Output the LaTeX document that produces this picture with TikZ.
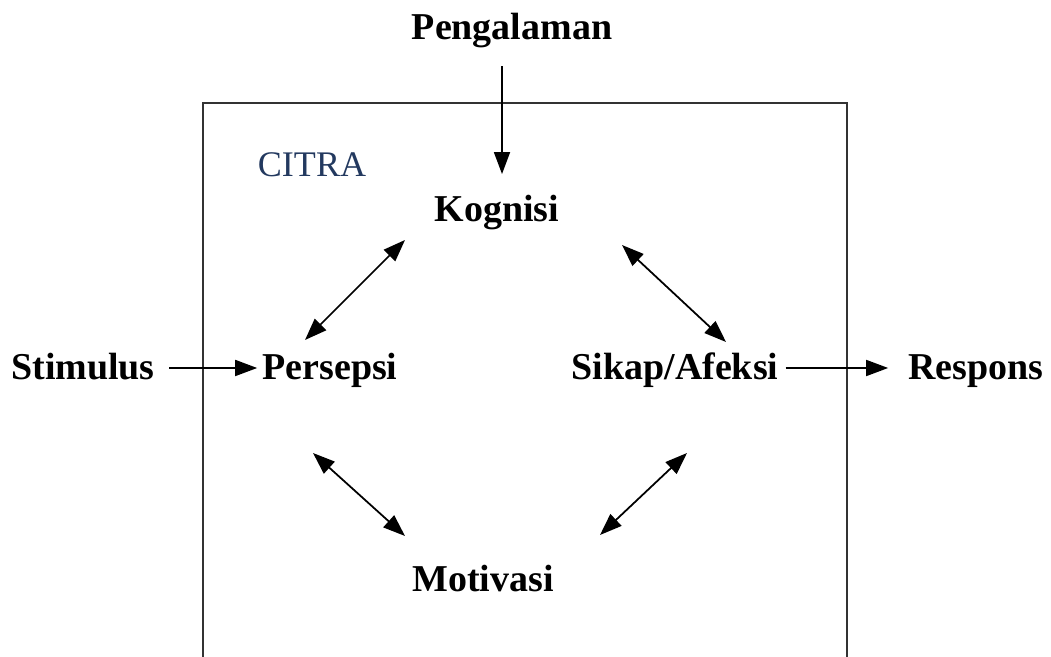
\documentclass[tikz,border=0pt]{standalone}
\usepackage{fontspec}
\setmainfont{Liberation Serif}
\usetikzlibrary{positioning,arrows.meta}
\definecolor{citrablue}{RGB}{35,57,95}

\begin{document}
\begin{tikzpicture}[
        term/.style={font=\fontsize{21.6}{24}\selectfont\bfseries, text=black, inner sep=0pt, text height=0.7em, text depth=0.22em},
        title/.style={font=\fontsize{20.5}{24}\selectfont, text=citrablue, inner sep=0pt},
        arr/.style={-{Triangle[length=4.4mm,width=3.2mm]}, line width=1pt},
        dbl/.style={{Triangle[length=4.4mm,width=3.2mm]}-{Triangle[length=4.4mm,width=3.2mm]}, line width=1pt}
    ]
    \useasboundingbox (0,0) rectangle (21.02,13.14);

    % Box round the image
    \draw[line width=0.6pt, black!80] (4.06,0) -- (4.06,11.08) -- (16.94,11.08) -- (16.94,0);
    \node[title] (citra) at (6.24, 9.84) {CITRA};

    % Terms
    \node[term] (peng) at (10.24, 12.43) {Pengalaman};
    \node[term] (kog) at (9.94, 8.79) {Kognisi};
    \node[term] (stim) at (1.66, 5.63) {Stimulus};
    \node[term] (pers) at (6.60, 5.63) {Persepsi};
    \node[term] (sikap) at (13.50, 5.63) {Sikap/Afeksi};
    \node[term] (resp) at (19.52, 5.63) {Respons};
    \node[term] (motiv) at (9.66, 1.39) {Motivasi};

    % Input and output
    \draw[arr] ([xshift=-0.2cm,yshift=-0.45cm]peng.south) -- ([xshift=-0.2cm,yshift=0.7cm]peng.south |- kog.north);
    \draw[arr, shorten <=0.28cm, shorten >=0.1cm] ([yshift=0.15cm]stim.east) -- ([yshift=0.15cm]pers.west);
    \draw[arr, shorten <=0.14cm, shorten >=0.4cm] ([yshift=0.15cm]sikap.east) -- ([yshift=0.15cm]resp.west);

    % Links inside the box
    \draw[dbl] ([shift={(-1.84,-0.45)}]kog.center) -- ([shift={(-0.50,0.71)}]pers.center);
    \draw[dbl] ([shift={(2.50,-0.55)}]kog.center) -- ([shift={(1.02,0.67)}]sikap.center);
    \draw[dbl] ([shift={(-0.34,-1.55)}]pers.center) -- ([shift={(-1.56,1.03)}]motiv.center);
    \draw[dbl] ([shift={(0.24,-1.55)}]sikap.center) -- ([shift={(2.34,1.05)}]motiv.center);
\end{tikzpicture}
\end{document}
